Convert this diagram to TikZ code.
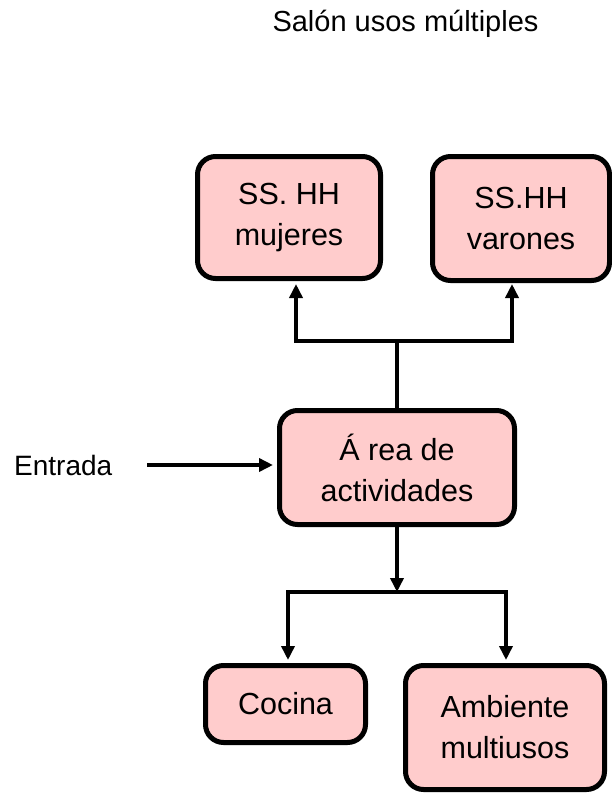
\documentclass[tikz,border=0pt]{standalone}
\usepackage{fontspec}
\setmainfont{Liberation Sans}
\usetikzlibrary{arrows.meta}
\definecolor{boxpink}{RGB}{255,204,204}
\tikzset{
  roombox/.style={draw=black, fill=boxpink, line width=5bp, rounded corners=18bp,
    align=center, inner sep=0pt, font=\fontsize{30.5bp}{41bp}\selectfont},
  plain/.style={inner sep=0pt, font=\fontsize{28bp}{34bp}\selectfont},
  conn/.style={line width=4bp, draw=black},
  arr/.style={conn, -{Triangle[length=14bp,width=13bp]}}
}
\begin{document}
\begin{tikzpicture}[x=1bp,y=-1bp]
\useasboundingbox (0,0) rectangle (612,793);
\node[plain, font=\fontsize{29bp}{34bp}\selectfont] (title) at (405.5,24) {Salón usos múltiples};
\node[roombox, minimum width=183bp, minimum height=122bp] (muj) at (289,217.5) {SS. HH\\mujeres};
\node[roombox, minimum width=177bp, minimum height=124bp] (var) at (521,218.5) {SS.HH\\varones};
\node[roombox, minimum width=235bp, minimum height=114bp] (area) at (397,467.5) {Á rea de\\actividades};
\node[roombox, minimum width=160bp, minimum height=77bp] (coc) at (285.5,704) {Cocina};
\node[roombox, minimum width=199bp, minimum height=124bp] (amb) at (505,727.5) {Ambiente\\multiusos};
\node[plain, anchor=west] (ent) at (14,465) {Entrada};
% entrance arrow
\coordinate (e0) at (147,465);
\draw[arr, shorten >=4bp] (e0) -- (e0 -| area.west);
% upper branch
\coordinate (tj) at (397,341);
\coordinate (tl) at (296,341);
\coordinate (tr) at (512,341);
\draw[conn] (area.north) -- (tj);
\draw[conn, line cap=rect] (tl) -- (tr);
\draw[arr, shorten >=3bp] (tl) -- (tl |- muj.south);
\draw[arr, shorten >=1bp] (tr) -- (tr |- var.south);
% lower branch
\coordinate (bj) at (397,594);
\coordinate (bl) at (288,592);
\coordinate (br) at (506,592);
\draw[arr, shorten >=2bp] (area.south) -- (bj);
\draw[conn, line cap=rect] (bl) -- (br);
\draw[arr, shorten >=3bp] (bl) -- (bl |- coc.north);
\draw[arr, shorten >=3bp] (br) -- (br |- amb.north);
\end{tikzpicture}
\end{document}
